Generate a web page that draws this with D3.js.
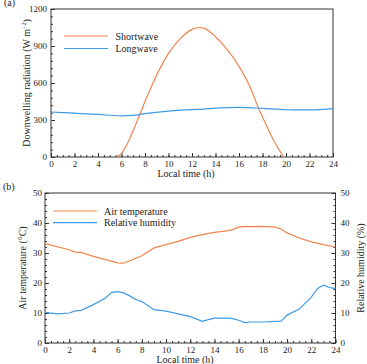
<!DOCTYPE html>
<html><head><meta charset="utf-8">
<script src="https://cdn.jsdelivr.net/npm/d3@7"></script>
<style>
body{margin:0;background:#fff;}
text{font-family:"Liberation Serif","Times New Roman",serif;fill:#222;}
</style></head>
<body><svg id="c" width="367" height="364"></svg>
<script>
// ---- data ----
const swHours = [5.6, 6, 6.5, 7, 7.5, 8, 9, 10, 11, 12, 12.6, 13, 14, 15, 16, 17, 17.6, 18, 19, 19.8];
const swValues = [0, 30, 110, 215, 330, 450, 665, 840, 960, 1035, 1050, 1045, 975, 870, 735, 555, 410, 325, 125, 0];
const lwHours = [0, 2, 4, 6, 7, 8, 10, 12, 13, 14, 16, 18, 20, 22, 24];
const lwValues = [365, 355, 345, 334, 338, 352, 372, 384, 388, 397, 403, 395, 383, 382, 392];

const tHours = [0, 2, 2.5, 3, 4, 5, 6, 6.5, 7, 8, 9, 10, 11, 12, 13, 14, 15, 15.5, 16, 16.5, 17, 18, 19, 19.5, 20, 21, 22, 23, 24];
const tValues = [33.1, 31.1, 30.3, 30.2, 28.9, 27.8, 26.7, 26.6, 27.4, 29.1, 31.7, 32.8, 33.9, 35.2, 36.1, 36.9, 37.4, 37.8, 38.6, 38.9, 38.8, 38.9, 38.6, 38.0, 36.7, 35.0, 33.7, 32.8, 32.0];
const rhHours = [0, 1, 2, 2.5, 3, 4, 5, 5.5, 6, 6.5, 7, 7.5, 8, 9, 10, 11, 12, 13, 13.5, 14, 15, 15.5, 16, 16.5, 17, 18, 19, 19.5, 20, 21, 21.5, 22, 22.5, 23, 23.5, 24];
const rhValues = [10.2, 9.7, 10.0, 10.7, 10.9, 12.8, 15.0, 16.9, 17.1, 16.7, 15.7, 14.5, 13.8, 11.1, 10.6, 9.7, 8.8, 7.2, 7.8, 8.3, 8.3, 8.1, 7.6, 6.8, 7.0, 7.0, 7.2, 7.3, 9.3, 11.3, 13.3, 15.3, 18.1, 19.3, 18.5, 18.1];

const xTicks = [0, 2, 4, 6, 8, 10, 12, 14, 16, 18, 20, 22, 24];
const radTicks = [0, 300, 600, 900, 1200];
const tempTicks = [0, 10, 20, 30, 40, 50];
const rhTicks = [0, 10, 20, 30, 40, 50];

const ORANGE = "#f2844f", BLUE = "#3f9be6", AX = "#333";
const svg = d3.select("#c");

function minorTicks(a, b, step){ const r=[]; for(let v=a; v<=b+1e-9; v+=step) r.push(+v.toFixed(4)); return r; }

function drawPanel(o){
  const g = svg.append("g");
  const x = d3.scaleLinear().domain([0,24]).range([o.left,o.right]);
  const y = d3.scaleLinear().domain(o.yDomain).range([o.bottom,o.top]);
  g.append("rect").attr("x",o.left).attr("y",o.top).attr("width",o.right-o.left).attr("height",o.bottom-o.top)
    .attr("fill","none").attr("stroke",AX).attr("stroke-width",1);
  const xa = g.append("g").attr("transform",`translate(0,${o.bottom})`)
    .call(d3.axisBottom(x).tickValues(xTicks).tickSize(-4).tickFormat(d3.format("d")));
  xa.select(".domain").remove();
  xa.selectAll("line").attr("stroke",AX);
  xa.selectAll("text").attr("font-size",9).attr("dy",null).attr("y",9.5);
  const xm = g.append("g").attr("transform",`translate(0,${o.bottom})`)
    .call(d3.axisBottom(x).tickValues(minorTicks(0,24,0.5)).tickSize(-2).tickFormat(""));
  xm.select(".domain").remove(); xm.selectAll("line").attr("stroke",AX);
  const ya = g.append("g").attr("transform",`translate(${o.left},0)`)
    .call(d3.axisLeft(y).tickValues(o.yTicks).tickSize(-4).tickPadding(o.lpad).tickFormat(d3.format("d")));
  ya.select(".domain").remove(); ya.selectAll("line").attr("stroke",AX);
  ya.selectAll("text").attr("font-size",9);
  const ym = g.append("g").attr("transform",`translate(${o.left},0)`)
    .call(d3.axisLeft(y).tickValues(minorTicks(o.yDomain[0],o.yDomain[1],o.yMinor)).tickSize(-2).tickFormat(""));
  ym.select(".domain").remove(); ym.selectAll("line").attr("stroke",AX);
  let y2 = null;
  if(o.y2Ticks){
    y2 = d3.scaleLinear().domain(o.y2Domain).range([o.bottom,o.top]);
    const ra = g.append("g").attr("transform",`translate(${o.right},0)`)
      .call(d3.axisRight(y2).tickValues(o.y2Ticks).tickSize(-4).tickPadding(5).tickFormat(d3.format("d")));
    ra.select(".domain").remove(); ra.selectAll("line").attr("stroke",AX);
    ra.selectAll("text").attr("font-size",9);
    const rm = g.append("g").attr("transform",`translate(${o.right},0)`)
      .call(d3.axisRight(y2).tickValues(minorTicks(o.y2Domain[0],o.y2Domain[1],2)).tickSize(-2).tickFormat(""));
    rm.select(".domain").remove(); rm.selectAll("line").attr("stroke",AX);
  }
  return {g,x,y,y2};
}

// ---- panel (a) ----
const A = drawPanel({left:51,right:333,top:9,bottom:157,yDomain:[0,1200],yTicks:radTicks,yMinor:60,lpad:4});
const lineA = d3.line().x(d=>A.x(d[0])).y(d=>A.y(d[1])).curve(d3.curveMonotoneX);
A.g.append("path").datum(d3.zip(swHours,swValues)).attr("d",lineA).attr("fill","none").attr("stroke",ORANGE).attr("stroke-width",1.2);
A.g.append("path").datum(d3.zip(lwHours,lwValues)).attr("d",lineA).attr("fill","none").attr("stroke",BLUE).attr("stroke-width",1.2);
A.g.append("text").attr("x",186).attr("y",177).attr("text-anchor","middle").attr("font-size",10).text("Local time (h)");
const ta = A.g.append("text").attr("transform","translate(29.5,83) rotate(-90)").attr("text-anchor","middle").attr("font-size",10);
ta.append("tspan").text("Downwelling radiation (W m");
ta.append("tspan").attr("font-size",6).attr("dy",-4).text("−2");
ta.append("tspan").attr("dy",4).text(")");
[["Shortwave",ORANGE,36],["Longwave",BLUE,48.5]].forEach(([t,c,yy])=>{
  A.g.append("line").attr("x1",64).attr("x2",108).attr("y1",yy).attr("y2",yy).attr("stroke",c).attr("stroke-width",1.2);
  A.g.append("text").attr("x",115.5).attr("y",yy+3.5).attr("font-size",10).text(t);
});
svg.append("text").attr("x",4).attr("y",6).attr("font-size",10).text("(a)");

// ---- panel (b) ----
const B = drawPanel({left:45,right:335.5,top:193,bottom:343,yDomain:[0,50],yTicks:tempTicks,yMinor:2,y2Domain:[0,50],y2Ticks:rhTicks,lpad:3});
const lineB = d3.line().x(d=>B.x(d[0])).y(d=>B.y(d[1]));
const lineB2 = d3.line().x(d=>B.x(d[0])).y(d=>B.y2(d[1]));
B.g.append("path").datum(d3.zip(tHours,tValues)).attr("d",lineB).attr("fill","none").attr("stroke",ORANGE).attr("stroke-width",1.2);
B.g.append("path").datum(d3.zip(rhHours,rhValues)).attr("d",lineB2).attr("fill","none").attr("stroke",BLUE).attr("stroke-width",1.2);
B.g.append("text").attr("x",185).attr("y",363).attr("text-anchor","middle").attr("font-size",10).text("Local time (h)");
B.g.append("text").attr("transform","translate(26,268) rotate(-90)").attr("text-anchor","middle").attr("font-size",10).text("Air temperature (°C)");
B.g.append("text").attr("transform","translate(363.5,268) rotate(-90)").attr("text-anchor","middle").attr("font-size",10).text("Relative humidity (%)");
[["Air temperature",ORANGE,211],["Relative humidity",BLUE,222.7]].forEach(([t,c,yy])=>{
  B.g.append("line").attr("x1",53).attr("x2",97).attr("y1",yy).attr("y2",yy).attr("stroke",c).attr("stroke-width",1.2);
  B.g.append("text").attr("x",104).attr("y",yy+3.5).attr("font-size",10).text(t);
});
svg.append("text").attr("x",3).attr("y",190).attr("font-size",10).text("(b)");
</script></body></html>
